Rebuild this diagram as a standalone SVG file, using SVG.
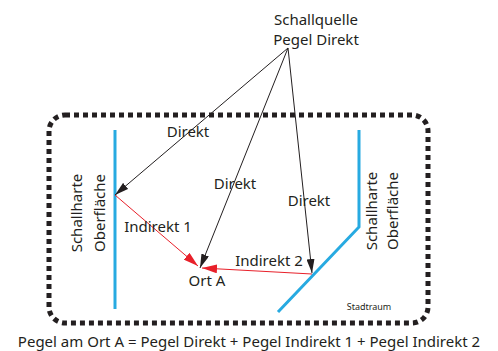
<svg xmlns="http://www.w3.org/2000/svg" width="498" height="351" viewBox="0 0 498 351">
  <style>
    text { font-family: "Noto Sans", "Open Sans", sans-serif; fill: #231f20; }
    .lbl { font-size: 15px; }
    .small { font-size: 9px; }
    .direct { stroke: #231f20; stroke-width: 1; fill: none; }
    .indirect { stroke: #e8202a; stroke-width: 1; fill: none; }
    .wall { stroke: #27aae1; stroke-width: 3; fill: none; }
    .frame { stroke: #231f20; stroke-width: 5; fill: none; stroke-dasharray: 5 4; }
  </style>
  <defs>
    <marker id="arrowBlack" markerWidth="14" markerHeight="8" refX="14" refY="4" orient="auto" markerUnits="userSpaceOnUse">
      <path d="M0,0 L14,4 L0,8 Z" fill="#231f20"/>
    </marker>
    <marker id="arrowRed" markerWidth="15" markerHeight="9" refX="15" refY="4.5" orient="auto" markerUnits="userSpaceOnUse">
      <path d="M0,0 L15,4.5 L0,9 Z" fill="#e8202a"/>
    </marker>
  </defs>

  <!-- urban space boundary -->
  <g id="stadtraum">
    <rect class="frame" x="49" y="115" width="379" height="208" rx="16" ry="16"/>
    <text class="small" x="369" y="310" text-anchor="middle">Stadtraum</text>
  </g>

  <!-- reflecting surfaces -->
  <g id="wall-left">
    <line class="wall" x1="115" y1="130" x2="115" y2="309"/>
    <text class="lbl" transform="translate(82,213) rotate(-90)" text-anchor="middle">Schallharte</text>
    <text class="lbl" transform="translate(105,213) rotate(-90)" text-anchor="middle">Oberfläche</text>
  </g>
  <g id="wall-right">
    <polyline class="wall" points="359,130 359,227 278,312"/>
    <text class="lbl" transform="translate(377,211) rotate(-90)" text-anchor="middle">Schallharte</text>
    <text class="lbl" transform="translate(398,211) rotate(-90)" text-anchor="middle">Oberfläche</text>
  </g>

  <!-- sound source -->
  <g id="quelle">
    <text class="lbl" x="316" y="25" text-anchor="middle">Schallquelle</text>
    <text class="lbl" x="316" y="45" text-anchor="middle">Pegel Direkt</text>
  </g>

  <!-- receiver -->
  <g id="ort-a">
    <text class="lbl" x="207" y="286" text-anchor="middle">Ort A</text>
  </g>

  <!-- sound paths -->
  <g id="connectors">
    <line class="direct" x1="288" y1="48" x2="115" y2="195" marker-end="url(#arrowBlack)"/>
    <line class="direct" x1="288" y1="48" x2="200" y2="268" marker-end="url(#arrowBlack)"/>
    <line class="direct" x1="288" y1="48" x2="312" y2="273" marker-end="url(#arrowBlack)"/>
    <line class="indirect" x1="115" y1="195" x2="198" y2="266" marker-end="url(#arrowRed)"/>
    <line class="indirect" x1="312" y1="274" x2="202" y2="268" marker-end="url(#arrowRed)"/>
  </g>

  <!-- path labels -->
  <g id="labels">
    <text class="lbl" x="188" y="137" text-anchor="middle">Direkt</text>
    <text class="lbl" x="235" y="189" text-anchor="middle">Direkt</text>
    <text class="lbl" x="309" y="206" text-anchor="middle">Direkt</text>
    <text class="lbl" x="158" y="232" text-anchor="middle">Indirekt 1</text>
    <text class="lbl" x="269" y="266" text-anchor="middle">Indirekt 2</text>
  </g>

  <!-- formula -->
  <g id="formel">
    <text class="lbl" x="249" y="347" text-anchor="middle">Pegel am Ort A = Pegel Direkt + Pegel Indirekt 1 + Pegel Indirekt 2</text>
  </g>
</svg>
